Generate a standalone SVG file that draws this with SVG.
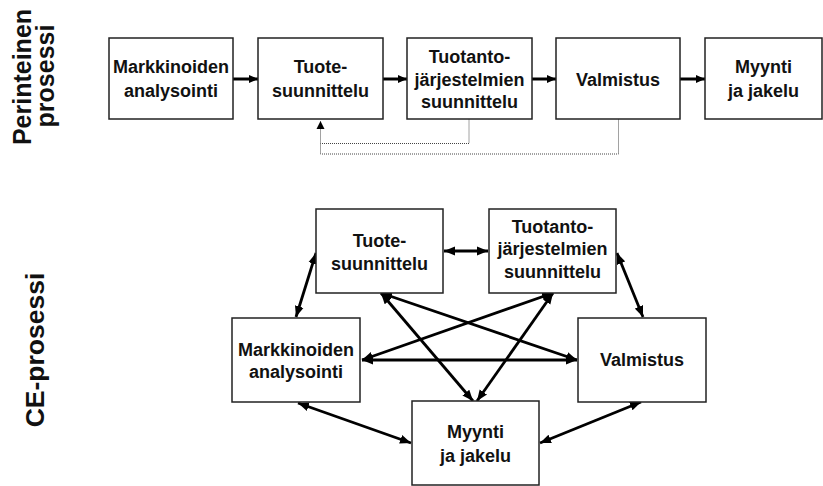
<svg xmlns="http://www.w3.org/2000/svg" width="823" height="486" viewBox="0 0 823 486">
<style>
.box{fill:#fff;stroke:#222;stroke-width:1.5}
.t{font-family:"Liberation Sans",Arial,sans-serif;font-weight:bold;font-size:18px;fill:#111;text-anchor:middle}
.title{font-family:"Liberation Sans",Arial,sans-serif;font-weight:bold;font-size:25px;fill:#111;text-anchor:middle}
.a1{stroke:#000;stroke-width:3;fill:none;marker-end:url(#ah)}
.a2{stroke:#000;stroke-width:2.8;fill:none;marker-start:url(#ah2);marker-end:url(#ah2)}
.dot{stroke:#444;stroke-width:1;fill:none;stroke-dasharray:1 1}
</style>
<defs>
<marker id="ah" markerUnits="userSpaceOnUse" markerWidth="10" markerHeight="10" refX="9" refY="5" orient="auto"><path d="M0,1 L9,5 L0,9 z" fill="#000"/></marker>
<marker id="ah2" markerUnits="userSpaceOnUse" markerWidth="12" markerHeight="10" refX="11" refY="5" orient="auto-start-reverse"><path d="M0,0.5 L11,5 L0,9.5 z" fill="#000"/></marker>
<marker id="ahs" markerUnits="userSpaceOnUse" markerWidth="10" markerHeight="10" refX="8" refY="4.5" orient="auto"><path d="M0,0.5 L8,4.5 L0,8.5 z" fill="#000"/></marker>
</defs>

<text class="title" transform="translate(30.5,77) rotate(-90)">Perinteinen</text>
<text class="title" transform="translate(54,76) rotate(-90)">prosessi</text>
<text class="title" style="font-size:26.5px" transform="translate(43.5,350) rotate(-90)">CE-prosessi</text>

<g id="connectors">
<line class="a1" x1="233" y1="79" x2="258" y2="79"/>
<line class="a1" x1="383" y1="79" x2="407" y2="79"/>
<line class="a1" x1="532" y1="79" x2="556" y2="79"/>
<line class="a1" x1="680" y1="79" x2="705" y2="79"/>
<path class="dot" d="M469,119.5 V143.5 H320.5"/>
<path class="dot" d="M618.5,119.5 V154 H320.5 V121" style="marker-end:url(#ahs)"/>

<line class="a2" x1="316" y1="253" x2="296" y2="317"/>
<line class="a2" x1="444" y1="251" x2="488" y2="251"/>
<line class="a2" x1="617" y1="253" x2="643" y2="317"/>
<line class="a2" x1="362" y1="360" x2="577" y2="360"/>
<line class="a2" x1="298" y1="403" x2="411" y2="443"/>
<line class="a2" x1="641" y1="402" x2="540" y2="443"/>
<line class="a2" x1="381" y1="293" x2="473" y2="401"/>
<line class="a2" x1="381" y1="293" x2="577" y2="360"/>
<line class="a2" x1="553" y1="293" x2="362" y2="360"/>
<line class="a2" x1="553" y1="293" x2="477" y2="401"/>
</g>

<g id="p1"><rect class="box" x="109" y="38" width="124" height="81"/><text class="t" x="171" y="73">Markkinoiden</text><text class="t" x="171" y="97">analysointi</text></g>
<g id="p2"><rect class="box" x="258" y="38" width="125" height="81"/><text class="t" x="320.5" y="73">Tuote-</text><text class="t" x="320.5" y="97">suunnittelu</text></g>
<g id="p3"><rect class="box" x="407" y="38" width="125" height="81"/><text class="t" x="469.5" y="63">Tuotanto-</text><text class="t" x="469.5" y="86">järjestelmien</text><text class="t" x="469.5" y="108">suunnittelu</text></g>
<g id="p4"><rect class="box" x="556" y="38" width="124" height="81"/><text class="t" x="618" y="86">Valmistus</text></g>
<g id="p5"><rect class="box" x="705" y="38" width="117" height="81"/><text class="t" x="763.5" y="73">Myynti</text><text class="t" x="763.5" y="97">ja jakelu</text></g>

<g id="c1"><rect class="box" x="316" y="209" width="127" height="84"/><text class="t" x="379.5" y="247">Tuote-</text><text class="t" x="379.5" y="270">suunnittelu</text></g>
<g id="c2"><rect class="box" x="489" y="209" width="127" height="84"/><text class="t" x="552.5" y="233">Tuotanto-</text><text class="t" x="552.5" y="255">järjestelmien</text><text class="t" x="552.5" y="278">suunnittelu</text></g>
<g id="c3"><rect class="box" x="232" y="318" width="128" height="84"/><text class="t" x="296" y="356">Markkinoiden</text><text class="t" x="296" y="378">analysointi</text></g>
<g id="c4"><rect class="box" x="578" y="318" width="128" height="84"/><text class="t" x="642" y="366">Valmistus</text></g>
<g id="c5"><rect class="box" x="412" y="401" width="127" height="84"/><text class="t" x="475.5" y="438">Myynti</text><text class="t" x="475.5" y="462">ja jakelu</text></g>
</svg>
